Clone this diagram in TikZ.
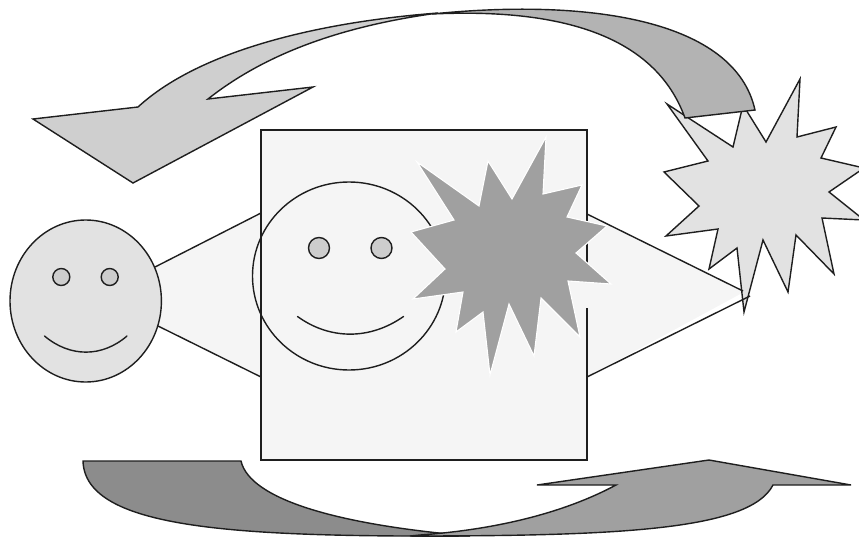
\documentclass[tikz,border=0pt]{standalone}
\usepackage{xcolor}
\usepackage{tikz}
\definecolor{inkgray}{RGB}{30,30,30}
\definecolor{paleback}{RGB}{245,245,245}
\definecolor{facegray}{RGB}{226,226,226}
\definecolor{eyegray}{RGB}{205,205,205}
\definecolor{burstgray}{RGB}{160,160,160}
\definecolor{upleftgray}{RGB}{207,207,207}
\definecolor{uprightgray}{RGB}{179,179,179}
\definecolor{lowleftgray}{RGB}{140,140,140}
\definecolor{lowrightgray}{RGB}{160,160,160}

\begin{document}
\begin{tikzpicture}[
 x=1pt,y=-1pt,
 outl/.style={draw=inkgray,line width=1.4pt},
 face/.style={outl,fill=facegray},
 eye/.style={outl,fill=eyegray},
 smile/.style={outl,line cap=round}
]
\clip (0,0) rectangle (859,538);
% beam behind the square
\fill[paleback] (155,267)--(261,213)--(587,214)--(744,292)--(587,377)--(261,377)--(158,326)--cycle;
% outer burst
\draw[face] (800,79)--(797,137)--(836,127)--(821,158)--(864,168)--(829,192)--(864,220)--(822,218)--(834,274)--(796,235)--(788,292)--(763,240)--(744,312)--(737,248)--(709,269)--(718,229)--(666,236)--(699,206)--(664,172)--(708,161)--(667,104)--(733,147)--(743,105)--(766,142)--cycle;
\draw[outl] (155,267)--(261,213);
\draw[outl] (158,326)--(261,377);
\draw[outl] (587,214)--(743,291);
\draw[outl] (587,377)--(750,296);
% square
\fill[paleback] (261,130) rectangle (587,460);
\draw[outl] (587,283)--(587,130)--(261,130)--(261,460)--(587,460)--(587,308);
% face in the square
\draw[outl] (349,276) ellipse (96.5 and 94);
\foreach \ex in {319,381.5}{\draw[eye] (\ex,248) circle (10.5);}
\draw[smile] (297.5,316.5) .. controls (330,340) and (370,340) .. (403.5,316.5);
% burst on the square
\draw[draw=white,line width=1.1pt,fill=burstgray] (546,137)--(543,194)--(582,185)--(567,217)--(607,226)--(576,253)--(611,284)--(568,281)--(580,337)--(541,298)--(534,356)--(509,304)--(490,375)--(483,312)--(456,332)--(463,292)--(413,299)--(445,269)--(411,232)--(454,220)--(417,162)--(479,206)--(488,161)--(512,199)--cycle;
% left face
\draw[face] (85.7,301) ellipse (75.7 and 81);
\foreach \ex in {61.3,109.7}{\draw[eye] (\ex,277) circle (8.5);}
\draw[smile] (44.5,336) .. controls (70,357.5) and (102,357.5) .. (127,336);
% upper arrow
\draw[outl,fill=uprightgray] (685,118) .. controls (655,35) and (560,8) .. (432,14)
 .. controls (590,-2) and (735,20) .. (755,110) -- cycle;
\draw[outl,fill=upleftgray] (438,13) .. controls (320,22) and (200,50) .. (138,107)
 -- (33,119) -- (133,183) -- (313,87) -- (208,99)
 .. controls (270,50) and (350,25) .. (438,13) -- cycle;
% lower arrow
\draw[outl,fill=lowleftgray] (83,461) -- (241,461) .. controls (250,500) and (340,525) .. (470,536)
 .. controls (240,537) and (85,530) .. (83,461) -- cycle;
\draw[outl,fill=lowrightgray] (420,535) .. controls (490,530) and (560,515) .. (616,485)
 -- (537,485) -- (709,460) -- (851,485) -- (773,485)
 .. controls (750,530) and (620,536) .. (410,536) -- cycle;
\end{tikzpicture}
\end{document}
